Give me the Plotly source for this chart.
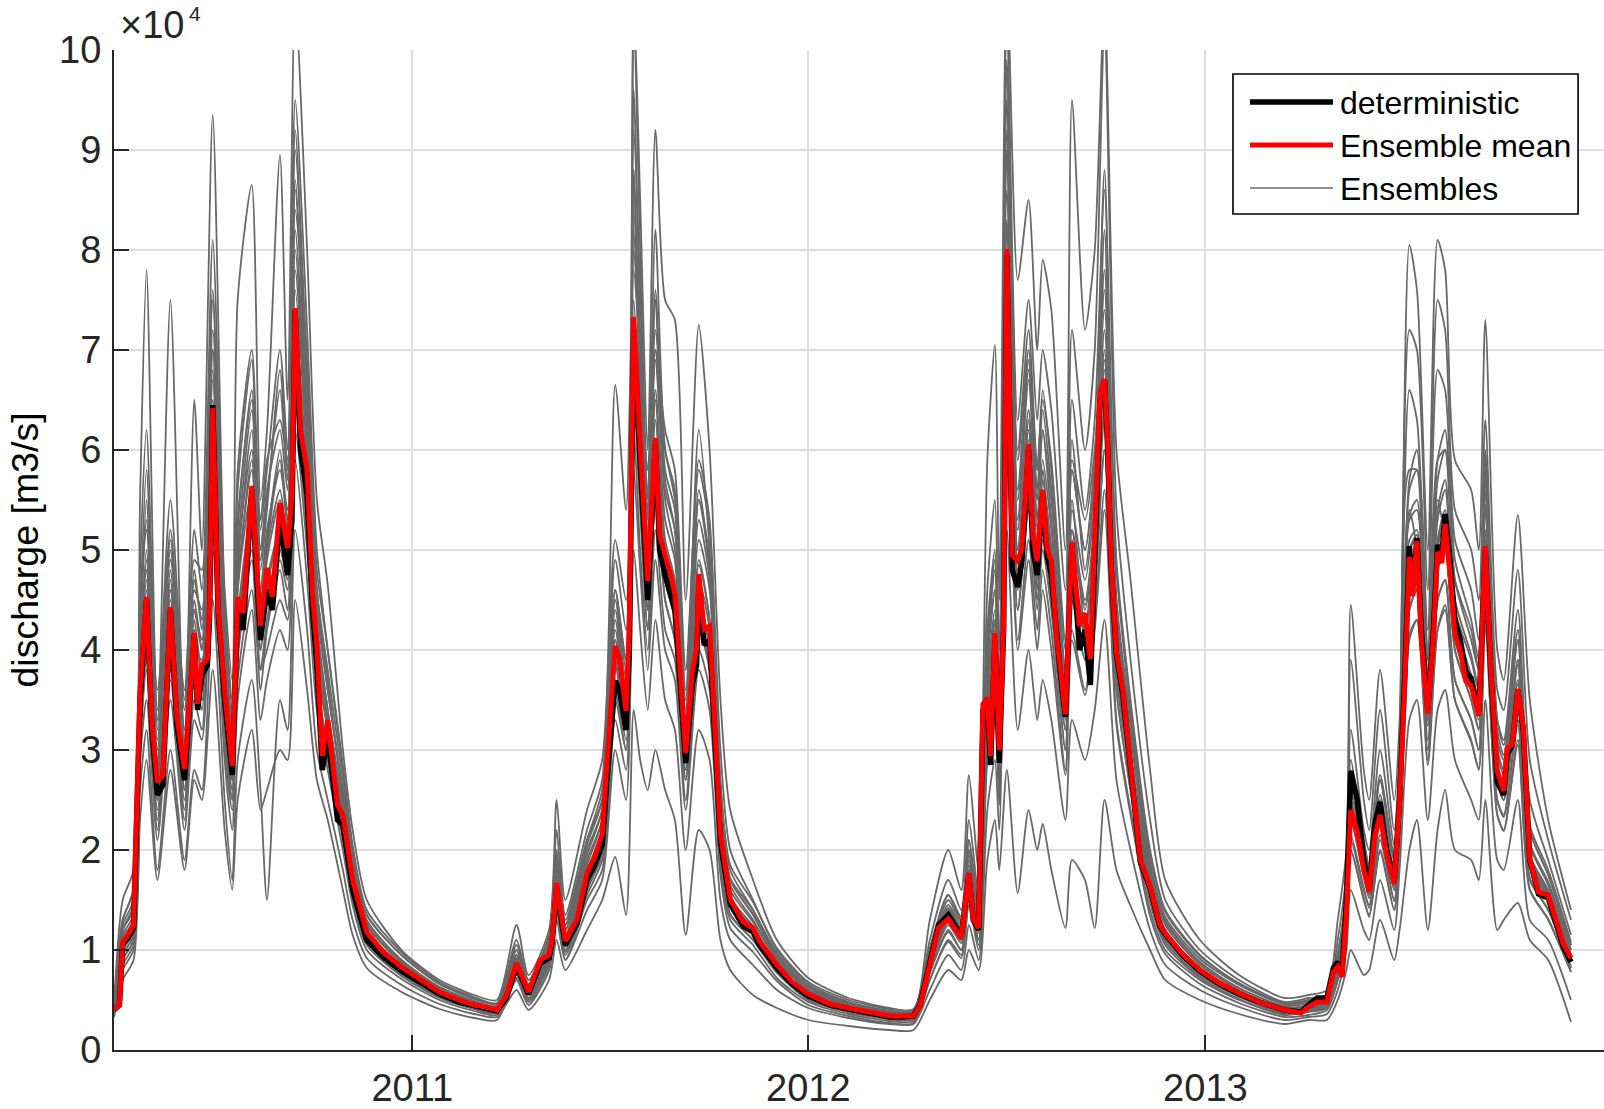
import pandas as pd
import plotly.graph_objects as go

BASE_DATE = "2010-04-01"   # day 0 of the day-offset arrays below
SCALE = 1e4                # values below are in units of 10^4 m3/s

# ---------------- deterministic run and ensemble mean ----------------
mean_days = [
    0, 5, 8, 13, 18, 24, 30, 35, 40, 45,
    52, 58, 65, 74, 77, 81, 86, 88, 91, 96,
    102, 109, 114, 119, 127, 135, 141, 146, 153, 160,
    164, 167, 172, 178, 183, 187, 192, 197, 206, 211,
    220, 233, 248, 265, 283, 300, 318, 332, 343, 353,
    362, 371, 382, 393, 401, 404, 408, 416, 427, 436,
    443, 450, 454, 462, 466, 472, 475, 479, 485, 492,
    499, 503, 508, 513, 517, 522, 527, 533, 537, 539,
    544, 549, 554, 559, 568, 580, 589, 595, 611, 625,
    640, 660, 677, 700, 715, 725, 737, 743, 752, 760,
    769, 775, 781, 788, 792, 797, 801, 805, 808, 812,
    816, 820, 823, 828, 833, 837, 843, 847, 851, 856,
    860, 864, 869, 872, 877, 883, 890, 895, 900, 904,
    909, 913, 916, 919, 924, 930, 937, 946, 955, 964,
    969, 984, 1001, 1019, 1037, 1058, 1079, 1094, 1101, 1109,
    1118, 1124, 1128, 1132, 1136, 1140, 1146, 1152, 1157, 1162,
    1167, 1173, 1180, 1185, 1190, 1194, 1197, 1201, 1205, 1211,
    1216, 1220, 1224, 1227, 1231, 1236, 1241, 1246, 1251, 1258,
    1264, 1269, 1275, 1281, 1284, 1289, 1294, 1299, 1305, 1313,
    1322, 1330, 1336, 1343,
]

ensemble_mean = [
    0.40, 0.45, 1.08, 1.15, 1.25, 3.60, 4.53, 3.26, 2.68, 2.74,
    4.43, 3.33, 2.81, 4.17, 3.46, 3.85, 3.91, 4.37, 6.42, 4.43,
    3.59, 2.84, 4.53, 4.37, 5.64, 4.24, 4.82, 4.53, 5.47, 5.02,
    5.54, 7.42, 6.19, 5.80, 4.56, 4.04, 2.94, 3.30, 2.45, 2.35,
    1.70, 1.18, 0.98, 0.83, 0.70, 0.58, 0.50, 0.45, 0.43, 0.40,
    0.55, 0.87, 0.58, 0.90, 0.95, 1.12, 1.67, 1.09, 1.31, 1.77,
    1.93, 2.16, 2.81, 4.04, 3.91, 3.39, 4.24, 7.33, 6.06, 4.69,
    6.12, 5.15, 4.95, 4.76, 4.56, 3.78, 2.97, 3.78, 4.01, 4.76,
    4.21, 4.24, 3.07, 2.16, 1.51, 1.28, 1.22, 1.09, 0.85, 0.68,
    0.56, 0.46, 0.42, 0.37, 0.34, 0.34, 0.34, 0.44, 0.86, 1.22,
    1.31, 1.22, 1.12, 1.77, 1.31, 1.22, 3.46, 3.52, 2.94, 4.17,
    3.00, 4.24, 8.01, 4.95, 4.89, 5.02, 6.06, 5.15, 4.89, 5.60,
    5.02, 4.89, 4.11, 3.85, 3.36, 5.08, 4.24, 4.37, 3.91, 5.15,
    6.58, 6.71, 6.06, 4.89, 3.98, 3.59, 2.87, 1.90, 1.64, 1.25,
    1.17, 0.97, 0.80, 0.67, 0.57, 0.47, 0.40, 0.37, 0.43, 0.48,
    0.48, 0.78, 0.83, 0.73, 1.36, 2.40, 2.18, 1.80, 1.58, 2.13,
    2.35, 1.96, 1.66, 2.46, 3.72, 4.93, 4.54, 5.09, 4.10, 3.36,
    4.10, 4.98, 4.87, 5.26, 4.82, 4.16, 3.99, 3.69, 3.64, 3.34,
    5.04, 3.83, 2.79, 2.59, 3.01, 3.06, 3.61, 3.23, 1.91, 1.58,
    1.55, 1.25, 1.06, 0.92,
]

deterministic = [
    0.40, 0.45, 1.05, 1.12, 1.22, 3.50, 4.50, 3.20, 2.55, 2.65,
    4.40, 3.25, 2.70, 4.15, 3.40, 3.75, 3.85, 4.30, 6.45, 4.35,
    3.50, 2.75, 4.45, 4.20, 5.60, 4.10, 4.60, 4.40, 5.30, 4.75,
    5.30, 7.40, 6.00, 5.55, 4.40, 3.85, 2.80, 3.15, 2.30, 2.25,
    1.60, 1.10, 0.93, 0.79, 0.67, 0.56, 0.48, 0.44, 0.42, 0.39,
    0.53, 0.84, 0.56, 0.87, 0.92, 1.08, 1.62, 1.05, 1.27, 1.70,
    1.85, 2.05, 2.65, 3.69, 3.60, 3.20, 4.00, 7.20, 5.90, 4.50,
    6.05, 5.00, 4.75, 4.55, 4.40, 3.65, 2.87, 3.65, 3.85, 4.60,
    4.05, 4.10, 2.95, 2.08, 1.46, 1.24, 1.18, 1.05, 0.82, 0.66,
    0.54, 0.45, 0.41, 0.36, 0.33, 0.33, 0.34, 0.45, 0.88, 1.25,
    1.35, 1.25, 1.14, 1.75, 1.30, 1.20, 3.40, 3.45, 2.85, 4.10,
    2.87, 4.20, 7.95, 4.80, 4.63, 4.90, 6.00, 5.00, 4.75, 5.55,
    4.95, 4.75, 4.05, 3.80, 3.33, 5.05, 4.00, 4.20, 3.65, 5.05,
    6.50, 6.70, 6.00, 4.85, 3.95, 3.55, 2.84, 1.88, 1.62, 1.24,
    1.16, 0.96, 0.79, 0.66, 0.56, 0.47, 0.40, 0.38, 0.45, 0.52,
    0.52, 0.82, 0.88, 0.76, 1.50, 2.79, 2.50, 1.90, 1.60, 2.25,
    2.48, 2.00, 1.68, 2.50, 3.80, 5.04, 4.60, 5.12, 4.20, 3.40,
    4.15, 5.05, 4.95, 5.36, 4.95, 4.30, 4.10, 3.78, 3.72, 3.38,
    5.00, 3.80, 2.68, 2.55, 2.95, 3.05, 3.60, 3.20, 1.90, 1.56,
    1.52, 1.22, 1.03, 0.88,
]

# ---------------- ensemble members (common day grid) ----------------
ens_days = [
    0, 8, 18, 24, 30, 40, 52, 65, 74, 81,
    91, 102, 109, 114, 127, 135, 141, 153, 160, 167,
    178, 187, 197, 211, 220, 233, 265, 300, 332, 353,
    371, 382, 401, 408, 416, 436, 450, 462, 472, 479,
    485, 492, 499, 508, 517, 527, 539, 549, 559, 568,
    589, 611, 640, 677, 715, 737,
    752, 769, 781, 788, 797, 805, 812, 816, 823, 833,
    843, 851, 856, 864, 877, 883, 895, 904, 913, 924,
    937, 955, 969, 1001, 1037, 1079, 1101,
    1118, 1128, 1136, 1140, 1152, 1157, 1167, 1180, 1185, 1194,
    1201, 1211, 1220, 1227, 1236, 1251, 1258, 1264, 1275, 1281,
    1294, 1305, 1322, 1343,
]

ens_01 = [
    0.45, 1.5, 1.8, 5.5, 7.8, 3.2, 7.5, 3.0, 6.5, 5.0,
    9.35, 4.5, 3.4, 7.5, 8.65, 5.5, 6.2, 8.95, 6.5, 10.5,
    8.0, 5.5, 4.65, 3.0, 2.2, 1.5, 1.0, 0.70, 0.55, 0.50,
    1.25, 0.75, 1.2, 2.5, 1.5, 2.4, 2.9, 5.1, 4.5, 10.5,
    8.5, 6.0, 9.2, 7.5, 7.3, 4.5, 7.25, 6.0, 3.5, 2.4,
    1.7, 1.1, 0.72, 0.52, 0.42, 0.40,
    1.3, 2.0, 1.6, 2.75, 1.8, 5.9, 7.05, 4.5, 10.8, 7.7,
    8.5, 7.0, 7.9, 7.4, 5.0, 9.5, 7.2, 8.0, 10.5, 6.0,
    4.7, 2.8, 1.7, 1.1, 0.75, 0.52, 0.55,
    0.6, 1.3, 2.0, 4.45, 2.8, 2.5, 3.8, 2.5, 3.3, 8.05,
    7.6, 5.0, 8.1, 7.8, 5.9, 5.6, 5.0, 7.3, 4.0, 3.7,
    5.35, 3.5, 2.3, 1.4,
]
ens_02 = [
    0.42, 1.3, 1.6, 4.8, 6.2, 3.4, 5.5, 3.5, 5.2, 4.6,
    8.1, 4.3, 3.1, 5.8, 7.0, 5.2, 5.8, 7.0, 6.0, 9.5,
    7.2, 5.0, 4.0, 2.8, 2.0, 1.35, 0.95, 0.66, 0.52, 0.46,
    1.1, 0.7, 1.15, 2.2, 1.35, 2.2, 2.7, 6.65, 5.4, 8.0,
    7.0, 5.8, 7.0, 6.2, 5.8, 3.8, 5.8, 5.2, 3.0, 2.0,
    1.5, 1.0, 0.66, 0.48, 0.39, 0.38,
    1.1, 1.7, 1.4, 2.3, 1.55, 4.6, 5.5, 4.0, 10.3, 6.3,
    7.5, 6.3, 7.0, 6.4, 4.6, 7.2, 6.0, 7.0, 10.2, 5.4,
    3.9, 2.3, 1.5, 1.0, 0.7, 0.48, 0.52,
    0.55, 1.1, 1.8, 3.9, 2.5, 2.2, 3.4, 2.2, 3.0, 7.2,
    7.0, 4.6, 7.5, 7.2, 5.4, 5.0, 4.5, 6.3, 3.6, 3.4,
    4.8, 2.9, 2.1, 1.3,
]
ens_03 = [
    0.38, 1.0, 1.3, 3.8, 5.0, 2.5, 4.8, 2.6, 4.5, 4.0,
    7.0, 3.5, 2.7, 4.8, 6.2, 4.5, 5.1, 6.0, 5.3, 8.7,
    6.3, 4.3, 3.4, 2.4, 1.75, 1.2, 0.85, 0.60, 0.46, 0.41,
    0.95, 0.62, 1.0, 1.9, 1.2, 2.0, 2.4, 4.5, 3.8, 9.6,
    7.2, 5.2, 7.5, 5.6, 5.2, 3.3, 5.5, 4.8, 2.5, 1.7,
    1.35, 0.92, 0.6, 0.45, 0.36, 0.36,
    0.95, 1.45, 1.25, 2.0, 1.35, 3.9, 4.6, 3.3, 9.0, 5.5,
    6.8, 5.5, 6.2, 5.5, 3.8, 5.8, 5.0, 5.8, 7.8, 4.5,
    3.2, 1.85, 1.3, 0.88, 0.62, 0.44, 0.47,
    0.5, 0.9, 1.5, 2.9, 2.0, 1.8, 2.7, 1.9, 2.8, 5.8,
    5.8, 3.9, 5.9, 6.0, 4.7, 4.2, 3.8, 5.7, 3.1, 2.9,
    4.1, 2.2, 1.75, 1.05,
]
ens_04 = [
    0.40, 1.1, 1.2, 3.4, 4.2, 2.9, 4.0, 3.0, 3.9, 3.6,
    5.9, 3.8, 3.0, 4.2, 5.2, 4.0, 4.5, 5.0, 4.7, 7.0,
    5.5, 3.9, 3.2, 2.3, 1.65, 1.15, 0.80, 0.56, 0.44, 0.39,
    0.85, 0.55, 0.9, 1.6, 1.05, 1.7, 2.1, 3.9, 3.2, 7.0,
    5.8, 4.4, 5.8, 4.7, 4.3, 2.8, 4.5, 4.0, 2.0, 1.45,
    1.18, 0.82, 0.54, 0.41, 0.33, 0.33,
    0.85, 1.3, 1.1, 1.75, 1.2, 3.4, 4.0, 2.9, 7.6, 4.7,
    5.8, 4.7, 5.4, 4.7, 3.2, 4.9, 4.2, 5.0, 6.4, 3.8,
    2.8, 1.6, 1.15, 0.78, 0.56, 0.39, 0.42,
    0.47, 0.8, 1.3, 2.3, 1.75, 1.55, 2.3, 1.6, 2.4, 4.8,
    4.9, 3.3, 4.8, 5.1, 4.0, 3.5, 3.2, 4.9, 2.7, 2.5,
    3.5, 1.85, 1.5, 0.9,
]
ens_05 = [
    0.35, 0.9, 1.1, 3.0, 3.8, 2.2, 3.7, 2.3, 3.5, 3.2,
    5.5, 3.0, 2.4, 3.9, 4.9, 3.6, 4.2, 4.8, 4.4, 6.6,
    5.1, 3.6, 2.9, 2.1, 1.5, 1.05, 0.74, 0.52, 0.41, 0.37,
    0.75, 0.5, 0.85, 1.4, 0.95, 1.55, 1.9, 3.5, 3.0, 6.2,
    5.0, 4.0, 5.2, 4.2, 3.9, 2.5, 4.0, 3.6, 1.8, 1.3,
    1.05, 0.72, 0.48, 0.36, 0.29, 0.29,
    0.7, 1.1, 0.95, 1.5, 1.05, 3.0, 3.5, 2.6, 6.6, 4.1,
    5.1, 4.2, 4.8, 4.2, 2.8, 4.2, 3.6, 4.3, 5.6, 3.3,
    2.4, 1.4, 1.0, 0.7, 0.5, 0.35, 0.38,
    0.42, 0.7, 1.1, 2.0, 1.5, 1.35, 2.0, 1.4, 2.1, 4.1,
    4.3, 2.9, 4.2, 4.4, 3.5, 3.1, 2.8, 4.3, 2.35, 2.2,
    3.1, 1.6, 1.3, 0.78,
]
ens_06 = [
    0.44, 1.2, 1.4, 4.0, 4.8, 3.0, 4.6, 3.2, 4.4, 4.1,
    6.5, 4.0, 3.2, 4.6, 5.9, 4.6, 5.2, 5.8, 5.4, 8.2,
    6.2, 4.4, 3.6, 2.6, 1.9, 1.3, 0.9, 0.63, 0.49, 0.44,
    0.9, 0.6, 0.98, 1.75, 1.1, 1.85, 2.3, 4.3, 3.6, 8.2,
    6.6, 5.0, 6.6, 5.3, 4.9, 3.2, 5.1, 4.6, 2.3, 1.6,
    1.28, 0.9, 0.59, 0.44, 0.35, 0.35,
    0.9, 1.4, 1.2, 1.9, 1.3, 3.7, 4.4, 3.2, 8.6, 5.2,
    6.4, 5.2, 5.9, 5.2, 3.6, 5.4, 4.7, 5.5, 7.2, 4.2,
    3.0, 1.75, 1.25, 0.85, 0.6, 0.42, 0.45,
    0.5, 0.88, 1.45, 2.6, 1.9, 1.7, 2.5, 1.75, 2.6, 5.3,
    5.4, 3.6, 5.3, 5.6, 4.4, 3.9, 3.6, 5.4, 3.0, 2.75,
    3.85, 2.05, 1.65, 1.0,
]
ens_07 = [
    0.36, 0.8, 1.0, 2.6, 3.2, 1.8, 3.0, 1.9, 2.8, 2.6,
    4.5, 2.5, 1.7, 2.9, 3.7, 2.6, 1.5, 3.5, 3.2, 5.2,
    4.2, 3.0, 2.5, 1.8, 1.3, 0.92, 0.65, 0.46, 0.36, 0.33,
    0.6, 0.4, 0.7, 1.1, 0.8, 1.2, 1.5, 1.93, 1.35, 3.4,
    2.9, 2.6, 3.0, 2.6, 2.3, 1.15, 2.2, 2.0, 1.1, 0.8,
    0.55, 0.42, 0.3, 0.24, 0.2, 0.2,
    0.5, 0.8, 0.7, 1.0, 0.8, 1.9, 2.3, 1.8, 2.8, 1.57,
    2.4, 2.0, 2.26, 1.8, 1.22, 1.9, 1.7, 1.22, 2.5, 1.8,
    1.44, 1.0, 0.7, 0.5, 0.36, 0.26, 0.3,
    0.3, 0.5, 0.8, 1.0, 0.75, 0.8, 1.3, 0.9, 1.2, 2.0,
    2.3, 1.2, 2.2, 2.6, 2.0, 1.9, 1.7, 2.5, 1.2, 1.3,
    1.47, 1.1, 0.9, 0.28,
]
ens_08 = [
    0.40, 1.05, 1.3, 3.3, 4.6, 2.6, 4.2, 2.7, 4.0, 3.9,
    6.0, 3.3, 2.6, 4.3, 5.4, 4.3, 4.7, 5.2, 4.9, 7.3,
    5.7, 4.1, 3.3, 2.35, 1.7, 1.2, 0.83, 0.58, 0.45, 0.40,
    0.88, 0.58, 0.95, 1.65, 1.1, 1.8, 2.1, 4.0, 3.3, 7.2,
    6.0, 4.6, 6.0, 4.9, 4.5, 3.0, 4.7, 4.2, 2.1, 1.5,
    1.2, 0.85, 0.56, 0.42, 0.34, 0.34,
    0.86, 1.3, 1.12, 1.8, 1.22, 3.5, 4.2, 3.0, 8.0, 4.9,
    6.0, 4.9, 5.6, 4.9, 3.4, 5.1, 4.4, 5.2, 6.8, 4.0,
    2.9, 1.65, 1.18, 0.8, 0.57, 0.4, 0.43,
    0.48, 0.84, 1.38, 2.45, 1.8, 1.6, 2.4, 1.65, 2.5, 5.0,
    5.1, 3.4, 5.0, 5.3, 4.2, 3.7, 3.35, 5.1, 2.8, 2.6,
    3.6, 1.9, 1.55, 0.92,
]
ens_09 = [
    0.33, 0.7, 0.9, 2.3, 2.9, 1.7, 2.8, 1.8, 2.7, 2.5,
    3.8, 2.2, 1.6, 2.5, 3.2, 2.4, 2.6, 3.0, 2.9, 4.5,
    3.6, 2.7, 2.3, 1.6, 1.15, 0.82, 0.58, 0.41, 0.32, 0.30,
    0.7, 0.45, 0.8, 1.3, 0.9, 1.4, 1.7, 3.0, 2.5, 5.0,
    4.2, 3.4, 4.3, 3.5, 3.2, 2.0, 3.2, 2.9, 1.5, 1.1,
    0.85, 0.6, 0.42, 0.32, 0.26, 0.26,
    0.6, 0.95, 0.8, 1.25, 0.9, 2.4, 2.9, 2.2, 5.2, 3.2,
    4.0, 3.3, 3.7, 3.3, 2.3, 3.3, 2.9, 3.4, 4.3, 2.7,
    2.0, 1.2, 0.85, 0.6, 0.43, 0.3, 0.33,
    0.36, 0.6, 1.0, 1.6, 1.2, 1.1, 1.7, 1.2, 1.8, 3.3,
    3.5, 2.3, 3.4, 3.6, 2.9, 2.5, 2.3, 3.5, 1.9, 1.8,
    2.5, 1.3, 1.1, 0.5,
]
ens_10 = [
    0.42, 1.15, 1.35, 3.9, 5.5, 2.9, 5.0, 3.0, 4.7, 4.3,
    7.6, 3.9, 3.0, 5.2, 6.6, 4.9, 5.5, 6.6, 5.7, 9.0,
    6.8, 4.6, 3.7, 2.5, 1.8, 1.25, 0.88, 0.62, 0.48, 0.43,
    1.0, 0.65, 1.05, 2.0, 1.25, 2.1, 2.5, 4.6, 3.9, 10.3,
    8.0, 5.5, 8.2, 6.0, 5.6, 3.5, 6.2, 5.0, 2.7, 1.8,
    1.4, 0.95, 0.63, 0.47, 0.38, 0.37,
    1.0, 1.55, 1.3, 2.1, 1.4, 4.2, 5.0, 3.5, 9.8, 6.0,
    7.2, 5.8, 6.6, 5.8, 4.0, 6.5, 5.4, 6.3, 8.6, 4.9,
    3.5, 2.0, 1.4, 0.95, 0.66, 0.46, 0.49,
    0.53, 0.95, 1.6, 3.2, 2.2, 2.0, 3.0, 2.05, 3.0, 6.6,
    6.3, 4.2, 6.8, 6.6, 5.1, 4.6, 4.1, 6.0, 3.3, 3.1,
    4.4, 2.5, 1.9, 1.15,
]
ens_11 = [
    0.37, 0.95, 1.15, 3.2, 4.0, 2.4, 3.9, 2.5, 3.7, 3.5,
    5.2, 3.2, 2.5, 3.7, 4.6, 3.8, 4.0, 4.5, 4.3, 6.2,
    5.0, 3.7, 3.0, 2.2, 1.55, 1.1, 0.77, 0.54, 0.42, 0.38,
    0.8, 0.52, 0.88, 1.5, 1.0, 1.6, 2.0, 3.7, 3.1, 6.5,
    5.4, 4.2, 5.5, 4.5, 4.1, 2.7, 4.2, 3.8, 1.9, 1.35,
    1.1, 0.78, 0.5, 0.38, 0.31, 0.31,
    0.78, 1.2, 1.0, 1.6, 1.1, 3.2, 3.8, 2.75, 7.0, 4.4,
    5.4, 4.5, 5.1, 4.5, 3.0, 4.5, 3.9, 4.6, 6.0, 3.6,
    2.6, 1.5, 1.08, 0.74, 0.53, 0.37, 0.4,
    0.44, 0.75, 1.2, 2.1, 1.6, 1.45, 2.15, 1.5, 2.25, 4.4,
    4.6, 3.1, 4.5, 4.7, 3.7, 3.3, 3.0, 4.6, 2.5, 2.35,
    3.3, 1.7, 1.4, 0.82,
]
ens_12 = [
    0.41, 1.1, 1.25, 3.5, 4.4, 2.7, 4.5, 2.8, 4.2, 3.8,
    6.2, 3.6, 2.9, 4.6, 5.6, 4.2, 4.9, 5.5, 5.0, 7.8,
    6.0, 4.2, 3.4, 2.45, 1.8, 1.25, 0.87, 0.61, 0.47, 0.42,
    0.92, 0.6, 1.0, 1.8, 1.15, 1.9, 2.3, 4.2, 3.5, 8.8,
    6.8, 5.1, 6.9, 5.5, 5.0, 3.3, 5.3, 4.7, 2.4, 1.65,
    1.3, 0.9, 0.6, 0.45, 0.36, 0.36,
    0.92, 1.38, 1.18, 1.85, 1.28, 3.6, 4.3, 3.1, 8.3, 5.0,
    6.2, 5.0, 5.7, 5.0, 3.5, 5.2, 4.5, 5.3, 7.0, 4.1,
    2.95, 1.7, 1.2, 0.82, 0.58, 0.41, 0.44,
    0.49, 0.86, 1.4, 2.5, 1.85, 1.62, 2.45, 1.7, 2.55, 5.1,
    5.2, 3.45, 5.1, 5.4, 4.3, 3.75, 3.45, 5.2, 2.85, 2.65,
    3.7, 1.95, 1.6, 0.95,
]
ens_13 = [
    0.43, 1.25, 1.5, 4.3, 5.8, 3.3, 5.2, 3.4, 4.6, 4.4,
    7.2, 4.4, 3.5, 5.0, 6.4, 5.0, 5.6, 6.2, 5.6, 8.6,
    6.5, 4.6, 3.8, 2.7, 1.95, 1.35, 0.95, 0.66, 0.51, 0.46,
    1.0, 0.66, 1.08, 1.9, 1.25, 2.05, 2.5, 4.6, 3.9, 8.4,
    7.0, 5.4, 7.0, 5.7, 5.2, 3.4, 5.5, 4.9, 2.5, 1.72,
    1.4, 0.97, 0.64, 0.48, 0.39, 0.39,
    0.98, 1.5, 1.28, 2.0, 1.4, 4.0, 4.8, 3.4, 9.2, 5.6,
    6.9, 5.6, 6.4, 5.6, 3.8, 5.8, 5.0, 5.9, 7.6, 4.5,
    3.3, 1.87, 1.33, 0.91, 0.65, 0.46, 0.49,
    0.54, 0.95, 1.55, 2.8, 2.05, 1.8, 2.7, 1.9, 2.8, 5.6,
    5.8, 3.8, 5.7, 6.0, 4.7, 4.1, 3.8, 5.8, 3.2, 2.95,
    4.1, 2.2, 1.75, 1.05,
]
ens_14 = [
    0.37, 0.9, 1.1, 3.1, 3.9, 2.3, 3.8, 2.4, 3.8, 3.4,
    5.7, 3.2, 2.5, 4.0, 5.0, 3.8, 4.3, 4.9, 4.6, 6.8,
    5.3, 3.7, 3.0, 2.15, 1.55, 1.08, 0.76, 0.53, 0.41, 0.37,
    0.78, 0.52, 0.86, 1.5, 0.98, 1.6, 1.95, 3.6, 3.0, 6.6,
    5.5, 4.2, 5.5, 4.5, 4.1, 2.7, 4.3, 3.8, 1.95, 1.36,
    1.1, 0.77, 0.5, 0.38, 0.31, 0.31,
    0.77, 1.18, 1.0, 1.6, 1.1, 3.2, 3.7, 2.7, 7.1, 4.4,
    5.4, 4.4, 5.0, 4.4, 3.0, 4.5, 3.9, 4.6, 6.0, 3.6,
    2.6, 1.48, 1.05, 0.72, 0.51, 0.36, 0.39,
    0.43, 0.74, 1.22, 2.15, 1.62, 1.42, 2.1, 1.49, 2.2, 4.4,
    4.6, 3.0, 4.5, 4.7, 3.7, 3.3, 3.0, 4.5, 2.5, 2.33,
    3.25, 1.72, 1.4, 0.83,
]
ens_15 = [
    0.39, 1.0, 1.2, 3.7, 4.9, 2.6, 4.7, 2.7, 4.3, 3.7,
    6.8, 3.4, 2.7, 4.9, 6.0, 4.1, 5.0, 5.9, 5.2, 8.0,
    6.0, 4.0, 3.2, 2.3, 1.68, 1.16, 0.82, 0.57, 0.44, 0.40,
    0.86, 0.57, 0.94, 1.7, 1.08, 1.75, 2.15, 4.1, 3.4, 8.8,
    6.4, 4.6, 6.5, 5.1, 4.7, 2.9, 4.9, 4.3, 2.2, 1.5,
    1.22, 0.85, 0.56, 0.42, 0.34, 0.34,
    0.84, 1.28, 1.1, 1.72, 1.2, 3.5, 4.3, 2.95, 9.5, 4.8,
    6.3, 4.8, 5.8, 4.8, 3.3, 5.5, 4.2, 5.3, 8.2, 3.9,
    2.8, 1.6, 1.15, 0.79, 0.56, 0.4, 0.42,
    0.47, 0.82, 1.35, 2.5, 1.78, 1.56, 2.38, 1.64, 2.5, 5.4,
    5.0, 3.3, 5.5, 5.1, 4.1, 3.6, 3.3, 5.6, 2.75, 2.56,
    3.9, 1.88, 1.53, 0.9,
]
ens_16 = [
    0.45, 1.3, 1.6, 4.5, 5.2, 3.6, 4.9, 3.6, 4.9, 4.8,
    7.0, 4.6, 3.7, 5.3, 6.5, 5.3, 5.9, 6.3, 5.9, 8.4,
    6.9, 4.8, 4.0, 2.85, 2.05, 1.4, 0.98, 0.68, 0.53, 0.47,
    1.05, 0.7, 1.12, 1.95, 1.3, 2.1, 2.6, 4.9, 4.2, 7.8,
    6.9, 5.6, 7.2, 6.0, 5.5, 3.6, 5.9, 5.3, 2.65, 1.85,
    1.48, 1.02, 0.68, 0.5, 0.41, 0.41,
    1.02, 1.55, 1.33, 2.1, 1.45, 4.1, 4.9, 3.6, 8.9, 5.9,
    7.0, 5.8, 6.5, 5.9, 4.1, 5.9, 5.3, 6.0, 7.4, 4.8,
    3.4, 1.95, 1.38, 0.94, 0.67, 0.47, 0.5,
    0.55, 0.97, 1.58, 2.75, 2.1, 1.85, 2.75, 1.95, 2.9, 5.7,
    6.0, 4.0, 5.9, 6.2, 4.9, 4.3, 3.9, 5.9, 3.3, 3.05,
    4.2, 2.25, 1.8, 1.08,
]
ens_17 = [
    0.36, 0.85, 1.05, 2.9, 3.5, 2.1, 3.5, 2.2, 3.3, 3.1,
    5.0, 2.9, 2.2, 3.5, 4.4, 3.3, 3.7, 4.2, 4.0, 5.9,
    4.7, 3.4, 2.8, 2.0, 1.45, 1.0, 0.71, 0.5, 0.39, 0.35,
    0.72, 0.48, 0.8, 1.4, 0.9, 1.5, 1.8, 3.3, 2.8, 5.8,
    4.8, 3.8, 4.9, 4.0, 3.7, 2.4, 3.8, 3.4, 1.75, 1.22,
    0.98, 0.69, 0.45, 0.34, 0.27, 0.27,
    0.7, 1.08, 0.92, 1.45, 1.0, 2.9, 3.4, 2.45, 6.4, 4.0,
    4.9, 4.0, 4.6, 4.0, 2.75, 4.1, 3.55, 4.2, 5.4, 3.25,
    2.35, 1.34, 0.96, 0.66, 0.47, 0.33, 0.35,
    0.4, 0.7, 1.15, 2.0, 1.52, 1.33, 1.98, 1.4, 2.08, 4.15,
    4.3, 2.85, 4.2, 4.45, 3.5, 3.08, 2.82, 4.25, 2.36, 2.19,
    3.05, 1.61, 1.31, 0.78,
]
ens_18 = [
    0.41, 1.12, 1.3, 3.6, 4.7, 2.8, 4.6, 2.9, 4.4, 4.0,
    6.7, 3.7, 2.9, 4.7, 5.8, 4.4, 5.0, 5.6, 5.1, 7.6,
    5.9, 4.1, 3.35, 2.4, 1.72, 1.2, 0.84, 0.59, 0.46, 0.41,
    0.9, 0.6, 0.97, 1.68, 1.12, 1.8, 2.2, 4.1, 3.45, 7.5,
    6.2, 4.8, 6.3, 5.0, 4.6, 3.0, 4.85, 4.3, 2.2, 1.53,
    1.24, 0.86, 0.57, 0.43, 0.35, 0.35,
    0.88, 1.33, 1.14, 1.8, 1.24, 3.6, 4.25, 3.05, 8.2, 5.0,
    6.1, 5.0, 5.7, 5.0, 3.4, 5.2, 4.45, 5.25, 6.9, 4.05,
    2.92, 1.67, 1.19, 0.81, 0.58, 0.41, 0.44,
    0.49, 0.85, 1.38, 2.43, 1.83, 1.6, 2.38, 1.68, 2.5, 5.0,
    5.15, 3.4, 5.05, 5.33, 4.22, 3.7, 3.38, 5.1, 2.83, 2.62,
    3.66, 1.94, 1.57, 0.93,
]
ens_19 = [
    0.38, 0.95, 1.15, 3.3, 4.1, 2.5, 4.1, 2.6, 3.9, 3.6,
    6.1, 3.4, 2.7, 4.2, 5.3, 4.0, 4.6, 5.2, 4.8, 7.1,
    5.6, 3.9, 3.2, 2.3, 1.65, 1.15, 0.81, 0.57, 0.44, 0.39,
    0.82, 0.55, 0.9, 1.58, 1.03, 1.68, 2.05, 3.85, 3.2, 7.0,
    5.7, 4.4, 5.8, 4.7, 4.3, 2.8, 4.5, 4.0, 2.05, 1.43,
    1.16, 0.81, 0.53, 0.4, 0.32, 0.32,
    0.82, 1.25, 1.07, 1.7, 1.17, 3.35, 3.95, 2.85, 7.5, 4.6,
    5.7, 4.6, 5.3, 4.6, 3.2, 4.8, 4.15, 4.9, 6.3, 3.75,
    2.72, 1.55, 1.11, 0.76, 0.54, 0.38, 0.41,
    0.46, 0.8, 1.3, 2.3, 1.73, 1.52, 2.26, 1.6, 2.37, 4.75,
    4.9, 3.24, 4.8, 5.07, 4.0, 3.5, 3.22, 4.85, 2.69, 2.5,
    3.48, 1.84, 1.49, 0.89,
]
ens_20 = [
    0.44, 1.2, 1.45, 4.1, 5.3, 3.1, 5.1, 3.2, 4.8, 4.2,
    7.5, 4.1, 3.3, 5.6, 6.9, 4.8, 5.4, 6.8, 5.8, 9.2,
    6.6, 4.5, 3.6, 2.55, 1.85, 1.28, 0.9, 0.63, 0.49, 0.44,
    0.95, 0.63, 1.02, 1.85, 1.2, 1.95, 2.4, 4.4, 3.7, 9.2,
    7.6, 5.3, 7.6, 5.8, 5.4, 3.3, 5.6, 4.8, 2.45, 1.7,
    1.36, 0.94, 0.62, 0.46, 0.37, 0.37,
    0.94, 1.42, 1.22, 1.95, 1.33, 3.85, 4.6, 3.3, 9.9, 5.3,
    6.7, 5.3, 6.2, 5.3, 3.7, 6.1, 4.8, 5.7, 8.8, 4.35,
    3.15, 1.8, 1.28, 0.87, 0.62, 0.44, 0.47,
    0.51, 0.9, 1.47, 2.6, 1.95, 1.71, 2.55, 1.8, 2.67, 5.35,
    5.5, 3.65, 5.4, 5.7, 4.5, 3.95, 3.62, 5.45, 3.02, 2.8,
    3.9, 2.07, 1.68, 1.0,
]
ensemble_members = [ens_01, ens_02, ens_03, ens_04, ens_05, ens_06, ens_07,
                    ens_08, ens_09, ens_10, ens_11, ens_12, ens_13, ens_14,
                    ens_15, ens_16, ens_17, ens_18, ens_19, ens_20]

# ---------------- axes / text ----------------
x_range = ["2010-04-01", "2014-01-03 10:00"]
year_ticks = ["2011-01-01", "2012-01-01", "2013-01-01"]
year_labels = ["2011", "2012", "2013"]
y_tick_units = list(range(0, 11))
legend_labels = ["deterministic", "Ensemble mean", "Ensembles"]

GREY = "#686868"
AXC = "#262626"
FONT = "Liberation Sans, Arial, Helvetica, sans-serif"
TICK_SIZE = 38


def to_dates(days):
    return pd.Timestamp(BASE_DATE) + pd.to_timedelta(days, unit="D")


fig = go.Figure()
ens_x = to_dates(ens_days)
for m in ensemble_members:
    fig.add_trace(go.Scatter(x=ens_x, y=[v * SCALE for v in m], mode="lines",
                             line=dict(color=GREY, width=1.8, shape="spline", smoothing=0.7),
                             name="Ensembles", showlegend=False, hoverinfo="skip"))

main_x = to_dates(mean_days)
fig.add_trace(go.Scatter(x=main_x, y=[v * SCALE for v in deterministic], mode="lines",
                         line=dict(color="black", width=5.5), name="deterministic",
                         showlegend=False))
fig.add_trace(go.Scatter(x=main_x, y=[v * SCALE for v in ensemble_mean], mode="lines",
                         line=dict(color="#ff0000", width=5), name="Ensemble mean",
                         showlegend=False))

fig.update_layout(
    width=1604, height=1109,
    margin=dict(l=114, r=0, t=50, b=59, autoexpand=False),
    paper_bgcolor="white", plot_bgcolor="white",
    font=dict(family=FONT, color=AXC, size=TICK_SIZE),
    showlegend=False,
)
fig.update_xaxes(
    type="date", range=x_range, tickvals=year_ticks, ticktext=year_labels,
    ticks="inside", ticklen=15, tickwidth=1.5, tickcolor=AXC,
    showline=True, linecolor=AXC, linewidth=2, mirror=False, automargin=False,
    showgrid=True, gridcolor="#dedede", gridwidth=1.5, zeroline=False,
    tickfont=dict(size=TICK_SIZE, color=AXC, family=FONT), ticklabelstandoff=3,
)
fig.update_yaxes(
    range=[0, 10 * SCALE], tickvals=[k * SCALE for k in y_tick_units],
    ticktext=[str(k) for k in y_tick_units],
    ticks="inside", ticklen=15, tickwidth=1.5, tickcolor=AXC,
    showline=True, linecolor=AXC, linewidth=2, mirror=False, automargin=False,
    showgrid=True, gridcolor="#dedede", gridwidth=1.5, zeroline=False,
    tickfont=dict(size=TICK_SIZE, color=AXC, family=FONT), ticklabelstandoff=3,
    title=dict(text="discharge [m3/s]", font=dict(size=37.5, color="black", family=FONT),
               standoff=9),
)

# exponent label "×10^4"
fig.add_annotation(xref="paper", yref="paper", x=0.0027, y=1.025, xanchor="left",
                   yanchor="middle", showarrow=False, text="×10",
                   font=dict(size=TICK_SIZE, color=AXC, family=FONT))
fig.add_annotation(xref="paper", yref="paper", x=0.049, y=1.023, xanchor="left",
                   yanchor="bottom", showarrow=False, text="4",
                   font=dict(size=21, color=AXC, family=FONT))

# legend box (drawn in paper coordinates)
lx0, lx1, ly0, ly1 = 0.751, 0.9826, 0.836, 0.976
fig.add_shape(type="rect", xref="paper", yref="paper", x0=lx0, x1=lx1, y0=ly0, y1=ly1,
              fillcolor="white", line=dict(color="black", width=1.6), layer="above")
leg_y = [0.948, 0.905, 0.862]
leg_colors = ["black", "#ff0000", GREY]
leg_widths = [5.5, 5, 1.6]
for yy, c, w, lab in zip(leg_y, leg_colors, leg_widths, legend_labels):
    fig.add_shape(type="line", xref="paper", yref="paper", x0=0.7624, x1=0.8181,
                  y0=yy, y1=yy, line=dict(color=c, width=w), layer="above")
    fig.add_annotation(xref="paper", yref="paper", x=0.8215, y=yy - 0.001,
                       xanchor="left", yanchor="middle", showarrow=False, text=lab,
                       font=dict(size=32, color="black", family=FONT))

fig.write_html("out.html")
